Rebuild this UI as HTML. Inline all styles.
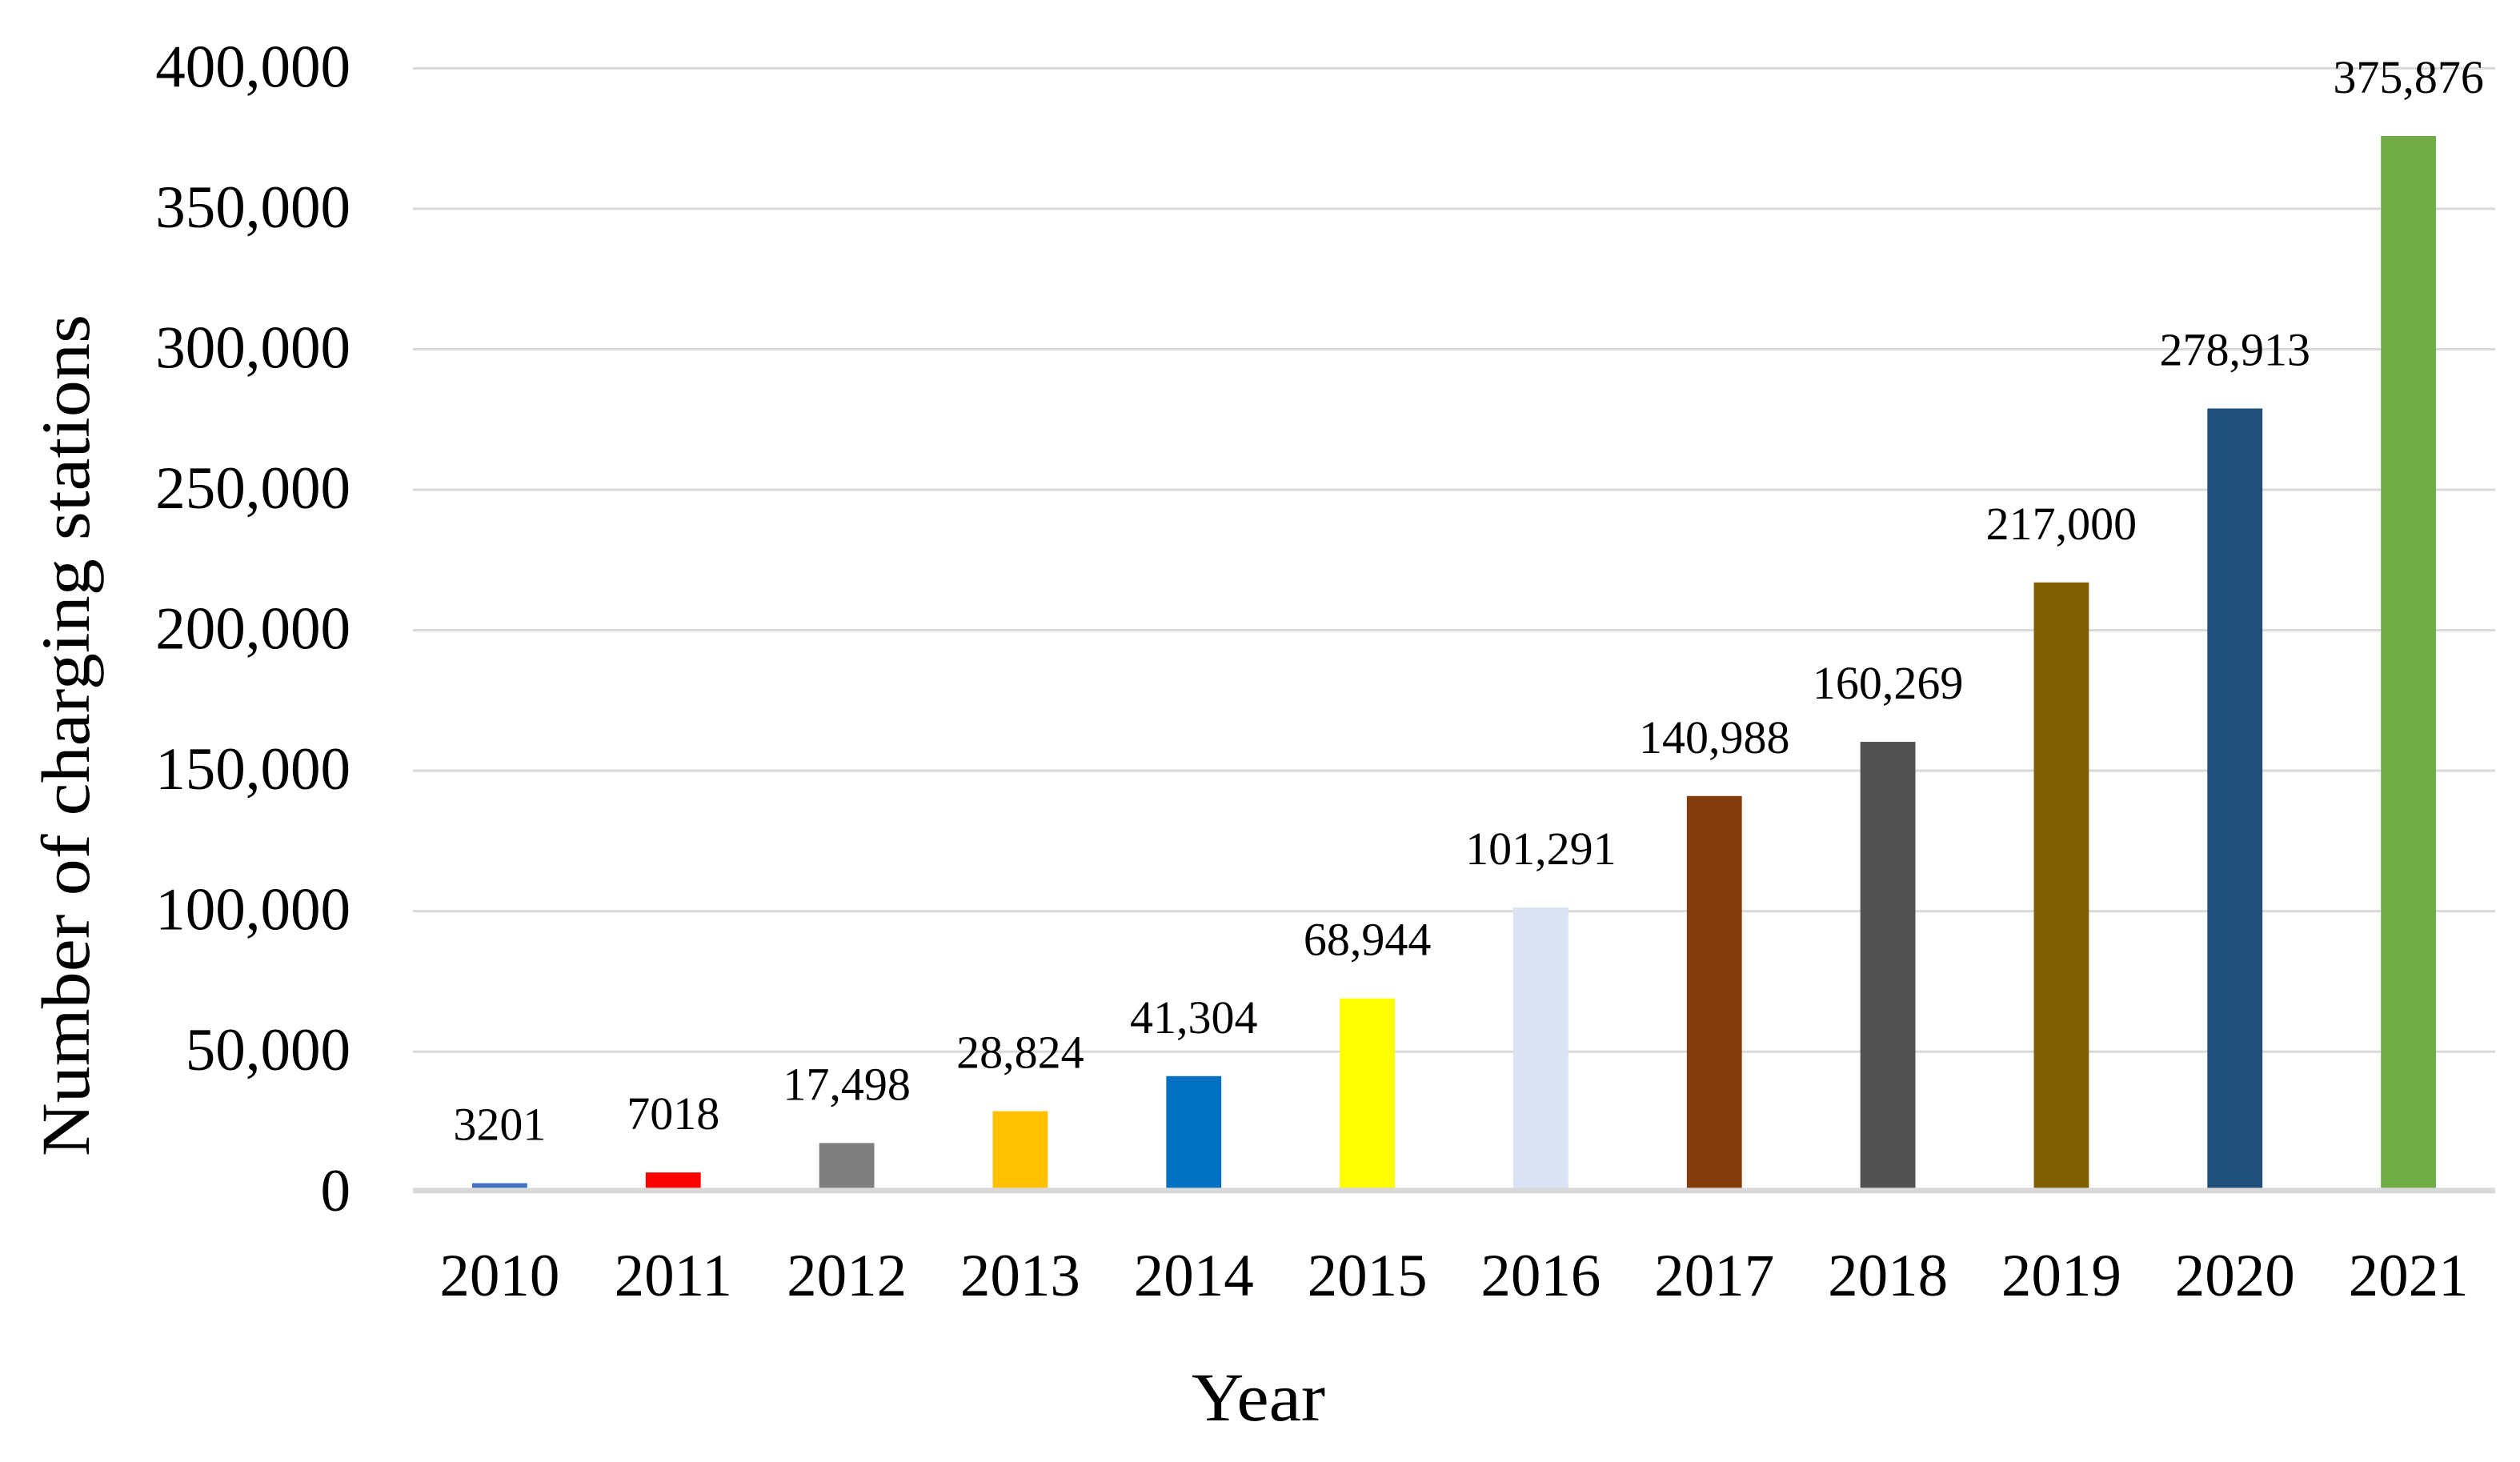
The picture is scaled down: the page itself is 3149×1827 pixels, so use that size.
<!DOCTYPE html>
<html lang="en">
<head>
<meta charset="utf-8">
<title>Number of charging stations by year</title>
<style>
html,body{margin:0;padding:0;background:#fff;}
svg{display:block;}
text{font-family:"Liberation Serif",serif;fill:#000;}
</style>
</head>
<body>
<svg id="chart" xmlns="http://www.w3.org/2000/svg" width="3149" height="1827" viewBox="0 0 3149 1827">
  <rect x="0" y="0" width="3149" height="1827" fill="#ffffff"></rect>
  <g id="grid"></g>
  <g id="bars"></g>
  <rect x="516" y="1484.3" width="2602" height="7" fill="#d9d9d9"></rect>
  <g id="yticks"></g>
  <g id="xticks"></g>
  <g id="values"></g>
  <text transform="translate(111,919) rotate(-90)" text-anchor="middle" font-size="86" textLength="1052" lengthAdjust="spacingAndGlyphs">Number of charging stations</text>
  <text x="1572.5" y="1775" text-anchor="middle" font-size="86" textLength="167" lengthAdjust="spacingAndGlyphs">Year</text>
</svg>
<script>
const categories = ['2010','2011','2012','2013','2014','2015','2016','2017','2018','2019','2020','2021'];
const stations = [3201,7018,17498,28824,41304,68944,101291,140988,160269,217000,278913,375876];
const valueLabels = ['3201','7018','17,498','28,824','41,304','68,944','101,291','140,988','160,269','217,000','278,913','375,876'];
const barColors = ['#4472c4','#ff0000','#7f7f7f','#ffc000','#0070c0','#ffff00','#dae3f3','#843c0c','#525252','#7f6000','#1f4e79','#70ad47'];
const yTicks = [0,50000,100000,150000,200000,250000,300000,350000,400000];
const yTickLabels = ['0','50,000','100,000','150,000','200,000','250,000','300,000','350,000','400,000'];

const NS = 'http://www.w3.org/2000/svg';
const plotLeft = 516, plotRight = 3118, plotZero = 1489.8, plotTop = 85.3, yMax = 400000;
const barWidth = 68.8;
function yScale(v){ return plotZero - (v / yMax) * (plotZero - plotTop); }
function xCenter(i){ return plotLeft + (i + 0.5) * (plotRight - plotLeft) / categories.length; }

const gridG = document.getElementById('grid');
const yTickG = document.getElementById('yticks');
yTicks.forEach(function(t, i){
  if (t !== 0) {
    const line = document.createElementNS(NS, 'rect');
    
    
    line.setAttribute('x', plotLeft);
    line.setAttribute('y', yScale(t) - 1.5);
    line.setAttribute('width', plotRight - plotLeft);
    line.setAttribute('height', 3);
    line.setAttribute('fill', '#d9d9d9');
    gridG.appendChild(line);
  }
  const lab = document.createElementNS(NS, 'text');
  
  
  lab.setAttribute('x', 438);
  lab.setAttribute('y', yScale(t) + 23);
  lab.setAttribute('text-anchor', 'end');
  lab.setAttribute('font-size', 75);
  lab.textContent = yTickLabels[i];
  yTickG.appendChild(lab);
});

const barsG = document.getElementById('bars');
const xTickG = document.getElementById('xticks');
const valuesG = document.getElementById('values');
categories.forEach(function(c, i){
  const cx = xCenter(i);
  const top = yScale(stations[i]);
  const bar = document.createElementNS(NS, 'rect');
  
  
  bar.setAttribute('x', cx - barWidth / 2);
  bar.setAttribute('y', top);
  bar.setAttribute('width', barWidth);
  bar.setAttribute('height', plotZero - top);
  bar.setAttribute('fill', barColors[i]);
  barsG.appendChild(bar);

  const val = document.createElementNS(NS, 'text');
  
  
  val.setAttribute('x', cx);
  val.setAttribute('y', top - 54);
  val.setAttribute('text-anchor', 'middle');
  val.setAttribute('font-size', 58);
  val.textContent = valueLabels[i];
  valuesG.appendChild(val);

  const xl = document.createElementNS(NS, 'text');
  
  
  xl.setAttribute('x', cx);
  xl.setAttribute('y', 1619);
  xl.setAttribute('text-anchor', 'middle');
  xl.setAttribute('font-size', 75);
  xl.textContent = c;
  xTickG.appendChild(xl);
});
</script>
</body>
</html>
